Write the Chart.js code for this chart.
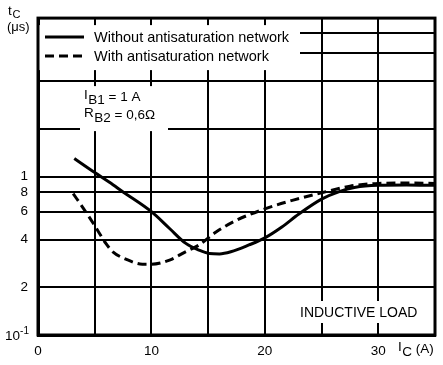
<!DOCTYPE html>
<html>
<head>
<meta charset="utf-8">
<script src="https://cdn.jsdelivr.net/npm/chart.js@4.4.1/dist/chart.umd.min.js"></script>
<style>
  html, body { margin: 0; padding: 0; background: #fff; }
  #wrap { width: 443px; height: 365px; }
</style>
</head>
<body>
<div id="wrap"><canvas id="c" width="443" height="365"></canvas></div>
<script>
/* ---------- data ---------- */
const SOLID_X = [3.2, 5, 6.3, 7.5, 10, 11.6, 13, 14.2, 15.1, 16, 17, 18.6, 20, 21.5, 23, 25, 26.5, 28, 30, 32.5, 35];
const SOLID_Y = [1.30, 1.06, 0.92, 0.80, 0.60, 0.47, 0.38, 0.343, 0.327, 0.325, 0.335, 0.37, 0.41, 0.48, 0.58, 0.72, 0.80, 0.855, 0.88, 0.885, 0.88];

const DASH_X = [3.1, 4, 5, 6, 6.6, 7.8, 9.2, 10, 11.6, 13, 14.2, 15.7, 17.5, 20, 22.5, 25, 27.5, 30, 32.5, 35];
const DASH_Y = [0.78, 0.63, 0.49, 0.377, 0.335, 0.30, 0.28, 0.28, 0.297, 0.335, 0.37, 0.447, 0.53, 0.625, 0.71, 0.79, 0.87, 0.905, 0.91, 0.905];

const SERIES_LABELS = ['Without antisaturation network', 'With antisaturation network'];

const X_TICKS  = [0, 5, 10, 15, 20, 25, 30, 35];
const X_LABELS = ['0', '', '10', '', '20', '', '30', ''];
const Y_TICKS  = [0.1, 0.2, 0.4, 0.6, 0.8, 1, 2, 4, 6, 8, 10];
// first label (10^-1) is drawn by the overlay so the exponent stays readable
const Y_LABELS = ['', '2', '4', '6', '8', '1', '', '', '', '', ''];

const FONT = "'Liberation Sans', Arial, Helvetica, sans-serif";
const INK = '#000';

/* ---------- helpers ---------- */
function pts(xs, ys) { return xs.map((x, i) => ({ x, y: ys[i] })); }

// letter raised a little, subscript dropped, then the rest on the baseline
function subText(ctx, x, y, main, sub, rest, size) {
  ctx.font = `${size}px ${FONT}`;
  ctx.fillText(main, x, y - 2);
  x += ctx.measureText(main).width + 0.5;
  ctx.fillText(sub, x, y + 3);
  x += ctx.measureText(sub).width;
  if (rest) ctx.fillText(rest, x, y);
}

/* ---------- overlay: white boxes, legend, notes, frame ---------- */
const overlay = {
  id: 'overlay',
  beforeDatasetsDraw(chart) {
    const { ctx, chartArea: a } = chart;
    const ds = chart.data.datasets;
    ctx.save();
    ctx.fillStyle = '#fff';
    ctx.fillRect(a.left + 1, a.top + 7, 261, 45);     // legend
    ctx.fillRect(a.left + 42, a.top + 68, 88, 45);    // I_B1 / R_B2
    ctx.fillRect(a.right - 139, a.bottom - 34, 126, 22); // inductive load

    // legend
    ctx.fillStyle = INK;
    ctx.strokeStyle = INK;
    ctx.textBaseline = 'middle';
    ctx.font = `14.5px ${FONT}`;
    [19, 38].forEach((dy, i) => {
      const y = a.top + dy;
      ctx.lineWidth = ds[i].borderWidth;
      ctx.setLineDash(ds[i].borderDash || []);
      ctx.beginPath();
      ctx.moveTo(a.left + 7, y);
      ctx.lineTo(a.left + 46, y);
      ctx.stroke();
      ctx.fillText(ds[i].label, a.left + 56, y + 1);
    });
    ctx.setLineDash([]);

    // conditions
    ctx.textBaseline = 'alphabetic';
    subText(ctx, a.left + 46, a.top + 83, 'I', 'B1', ' = 1 A', 13.5);
    subText(ctx, a.left + 46, a.top + 101, 'R', 'B2', ' = 0,6Ω', 13.5);

    ctx.font = `14px ${FONT}`;
    ctx.fillText('INDUCTIVE LOAD', a.right - 135, a.bottom - 18);

    // frame
    ctx.lineWidth = 3;
    ctx.strokeRect(a.left, a.top, a.right - a.left, a.bottom - a.top);
    ctx.restore();
  },
  afterDraw(chart) {
    const { ctx, chartArea: a, scales } = chart;
    ctx.save();
    ctx.fillStyle = INK;
    ctx.textBaseline = 'alphabetic';
    // y title
    ctx.font = `13.5px ${FONT}`;
    ctx.fillText('t', 8, 15);
    ctx.font = `11px ${FONT}`;
    ctx.fillText('C', 12.5, 18);
    ctx.font = `13px ${FONT}`;
    ctx.fillText('(μs)', 7, 31);

    // 10^-1 on the bottom y tick
    const y0 = scales.y.getPixelForValue(Y_TICKS[0]);
    ctx.textAlign = 'right';
    ctx.font = `10px ${FONT}`;
    ctx.fillText('-1', 29, y0 - 1);
    const w = ctx.measureText('-1').width;
    ctx.font = `13.5px ${FONT}`;
    ctx.fillText('10', 29 - w, y0 + 5);
    ctx.textAlign = 'left';

    // x title
    subText(ctx, a.right - 37, a.bottom + 18, 'I', 'C', ' (A)', 13.5);
    ctx.restore();
  }
};

/* ---------- chart ---------- */
const axisCommon = {
  grid: { color: INK, lineWidth: 2, drawTicks: false },
  border: { color: INK, width: 3 },
};

new Chart(document.getElementById('c'), {
  type: 'line',
  data: {
    datasets: [
      { label: SERIES_LABELS[0], data: pts(SOLID_X, SOLID_Y), borderColor: INK, borderWidth: 3, borderDash: [] },
      { label: SERIES_LABELS[1], data: pts(DASH_X, DASH_Y), borderColor: INK, borderWidth: 3, borderDash: [9, 5] },
    ]
  },
  options: {
    responsive: false,
    animation: false,
    layout: { padding: { top: 14, right: 6, left: 0, bottom: 0 } },
    elements: {
      point: { radius: 0 },
      line: { cubicInterpolationMode: 'monotone', fill: false, borderCapStyle: 'butt' }
    },
    plugins: { legend: { display: false }, tooltip: { enabled: false } },
    scales: {
      x: {
        ...axisCommon,
        type: 'linear', min: 0, max: 35,
        afterBuildTicks: s => { s.ticks = X_TICKS.map(v => ({ value: v })); },
        afterFit: s => { s.height = 30; },
        ticks: {
          autoSkip: false, maxRotation: 0, padding: 8, color: INK,
          font: { family: FONT, size: 13.5 },
          callback: (v, i) => X_LABELS[i]
        }
      },
      y: {
        ...axisCommon,
        type: 'logarithmic', min: 0.1, max: 10,
        afterBuildTicks: s => { s.ticks = Y_TICKS.map(v => ({ value: v })); },
        afterFit: s => { s.width = 38; },
        ticks: {
          autoSkip: false, padding: 10, color: INK,
          font: { family: FONT, size: 13.5 },
          callback: (v, i) => Y_LABELS[i]
        }
      }
    }
  },
  plugins: [overlay]
});
</script>
</body>
</html>
